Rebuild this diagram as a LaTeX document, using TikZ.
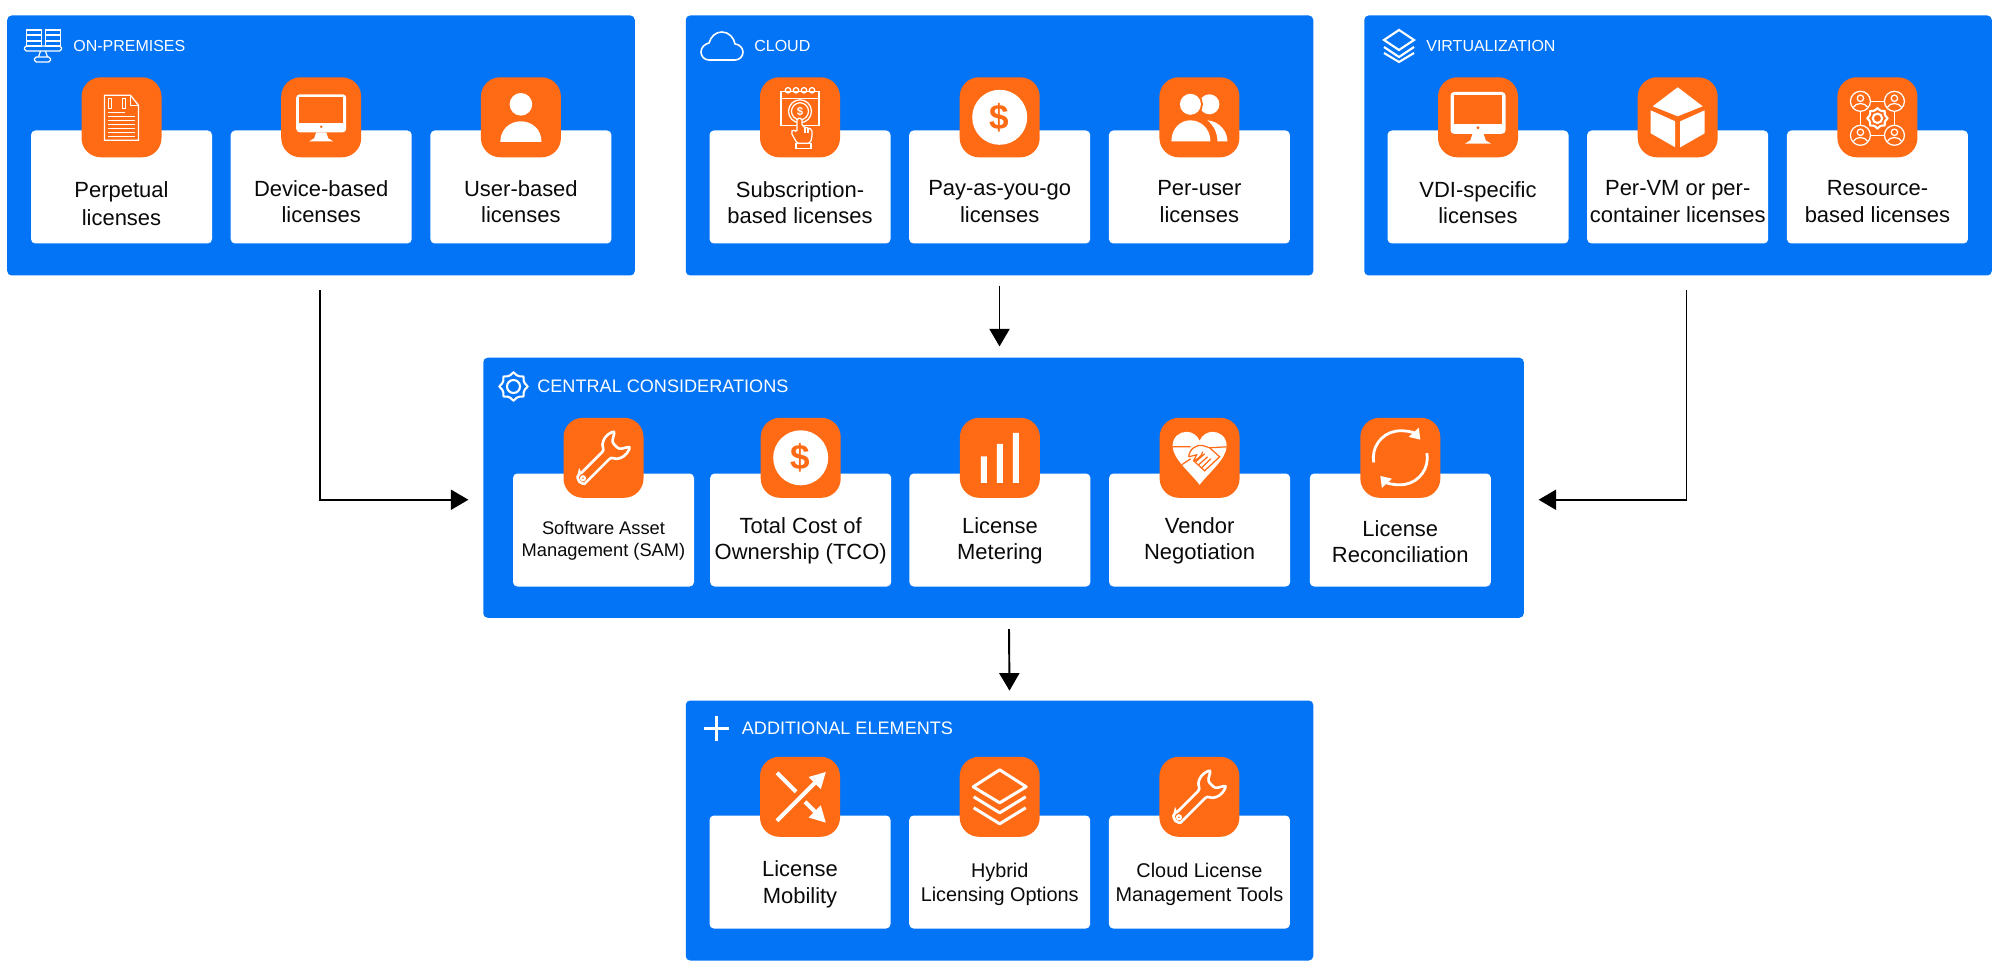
\documentclass[tikz,border=0pt]{standalone}
\usepackage{fontspec}
\setmainfont{Liberation Sans}
\usetikzlibrary{arrows.meta, positioning, calc}
\definecolor{cPanel}{RGB}{3, 116, 246}
\definecolor{cIcon}{RGB}{255, 106, 20}
\definecolor{tDark}{RGB}{10, 10, 10}

\tikzset{
    pics/hdGear/.style={code={
        \draw[icline, line width=1.2pt, smooth cycle] plot[domain=0:345, samples=24, variable=\t]
            ({(12.5+1.5*cos(8*\t))*cos(\t)}, {(12.5+1.5*cos(8*\t))*sin(\t)});
        \draw[icline, line width=1.2pt] (0,0) circle (6.5);
    }},
    pics/hdServers/.style={code={
        \draw[icline] (-16,-16) rectangle (-1,0) (3,-16) rectangle (18,0);
        \draw[icline] (-16,-11) -- (-1,-11) (-16,-5) -- (-1,-5) (3,-11) -- (18,-11) (3,-5) -- (18,-5);
        \draw[icline, rounded corners=1pt] (-18,0) rectangle (19,5);
        \draw[icline] (-2,5) -- (-4,11) (3,5) -- (5,11);
        \draw[icline, rounded corners=1pt] (-8,11) rectangle (8,16);
    }},
    pics/hdCloud/.style={code={
        \draw[icline, line width=0.9pt] (-13,14) .. controls (-18,14) and (-21,10) .. (-21,6)
            .. controls (-21,1) and (-17,-2) .. (-13,-3) .. controls (-11,-10) and (-6,-14) .. (0,-14)
            .. controls (7,-14) and (12,-8) .. (13,-2) .. controls (17,-2) and (21,2) .. (21,6)
            .. controls (21,11) and (17,14) .. (13,14) -- cycle;
    }},
    pics/hdLayers/.style={code={
        \draw[icline, line width=1.2pt] (0,-16) -- (15,-6) -- (0,4) -- (-15,-6) -- cycle;
        \draw[icline, line width=1.2pt] (-15,1) -- (0,11) -- (15,1) (-15,7) -- (0,16) -- (15,7);
    }},
    pics/hdPlus/.style={code={
        \draw[white, line width=1.9pt] (-12.5,0) -- (12.5,0) (0,-12.5) -- (0,12.5);
    }},
    pics/icDoc/.style={code={
        \draw[icline] (-17,-22) -- (9,-22) -- (17,-12) -- (17,23) -- (-17,23) -- cycle;
        \draw[icline] (9,-22) -- (9,-12) -- (17,-12);
        \draw[icline] (-13,-19) rectangle (-10,-9) (1,-19) rectangle (4,-9);
        \draw[icline] (-13,-5) -- (3,-5) (-13,-1) -- (13,-1) (-13,3) -- (13,3) (-13,7) -- (13,7)
            (-13,11) -- (13,11) (-13,15) -- (13,15) (-13,19) -- (13,19);
    }},
    pics/icMonitor/.style={code={
        \fill[white, rounded corners=2pt] (-25,-23) rectangle (25,15);
        \fill[cIcon] (-22,-20) rectangle (22,6);
        \fill[cIcon] (0,9.5) circle (1.4);
        \fill[white] (-5,15) -- (5,15) -- (7,21) -- (12,24) -- (-12,24) -- (-7,21) -- cycle;
    }},
    pics/icUser/.style={code={
        \fill[white] (0,-13) circle (11.3);
        \fill[white] (-20.6,24.7) .. controls (-20.6,11) and (-10,4) .. (0,4)
            .. controls (10,4) and (20.6,11) .. (20.6,24.7) -- cycle;
    }},
    pics/icCalendar/.style={code={
        \draw[icline] (-19,-26) rectangle (19,8) (-19,-19) -- (19,-19);
        \draw[icline] (-12,-27) circle (2.7) (-4,-27) circle (2.7) (4,-27) circle (2.7) (12,-27) circle (2.7);
        \draw[icline] (0,-6) circle (11.5) (0,-6) circle (8.5);
        \node[inner sep=0pt, text=white, font=\fontsize{6.5}{6.5}\selectfont\bfseries] (tapSign) at (0,-6) {\$};
        \draw[icline, fill=cIcon, rounded corners=1pt] (-3,26) -- (-9,15) -- (-7,12) -- (-3,15) -- (-3,1)
            -- (2,1) -- (2,9) -- (12,12) -- (12,20) -- (10,26) -- cycle;
        \draw[icline] (-4,26) rectangle (11,31) (5,10) -- (5,16) (8,11) -- (8,16);
    }},
    pics/icDollar/.style={code={
        \fill[white] (0,0) circle (27.5);
        \node[inner sep=0pt, text=cIcon, font=\fontsize{20}{20}\selectfont\bfseries] (coinSign) at (0,0) {\$};
    }},
    pics/icUsers/.style={code={
        \fill[white] (10,-13) circle (10);
        \fill[cIcon] (-9,-13) circle (12.5);
        \fill[white] (-9,-13) circle (10.5);
        \fill[white] (8,3) .. controls (20,4) and (28,14) .. (28,24) -- (18,24) .. controls (18,15) and (14,8) .. (8,3) -- cycle;
        \fill[white] (-28,24) .. controls (-28,11) and (-19,3) .. (-9,3)
            .. controls (1,3) and (11,11) .. (11,24) -- cycle;
    }},
    pics/icCube/.style={code={
        \fill[white] (0,-30) -- (25,-11) -- (0,-1) -- (-25,-11) -- cycle;
        \fill[white] (-27,-7) -- (-2.5,4) -- (-2.5,30) -- (-27,16) -- cycle;
        \fill[white] (27,-7) -- (2.5,4) -- (2.5,30) -- (27,16) -- cycle;
    }},
    pics/icPerson/.style={code={
        \draw[icline] (0,0) circle (10);
        \draw[icline] (0,-3) circle (3.2);
        \draw[icline] (-7,6) .. controls (-5,1) and (5,1) .. (7,6);
    }},
    pics/icNetwork/.style={code={
        \draw[icline] (-17,-6) -- (-17,8) (17,-6) -- (17,8) (-7,-16) -- (7,-16) (-7,18) -- (7,18);
        \pic at (-17,-16) {icPerson};
        \pic at (17,-16) {icPerson};
        \pic at (-17,18) {icPerson};
        \pic at (17,18) {icPerson};
        \pic[scale=0.72] at (0,1) {hdGear};
    }},
    pics/icWrench/.style={code={
        \draw[icline, line width=1.5pt, rotate=45, rounded corners=1.5pt] (-29,-5) -- (6,-5)
            .. controls (8,-11) and (14,-14) .. (22,-13) -- (27,-11) -- (17,-5) -- (17,5) -- (27,11) -- (22,13)
            .. controls (14,14) and (8,11) .. (6,5) -- (-29,5) arc (90:270:5) -- cycle;
        \draw[icline, line width=1.2pt, rotate=45] (-29,0) circle (2);
    }},
    pics/icBars/.style={code={
        \fill[white] (-19,25) rectangle (-13,-1.5) (-3,25) rectangle (3,-14) (13,25) rectangle (19,-25);
    }},
    pics/icHeart/.style={code={
        \fill[white] (0,27) .. controls (-10,14) and (-27,1) .. (-27,-12) .. controls (-27,-21) and (-20,-26) .. (-13,-26)
            .. controls (-7,-26) and (-2,-22) .. (0,-17) .. controls (2,-22) and (7,-26) .. (13,-26)
            .. controls (20,-26) and (27,-21) .. (27,-12) .. controls (27,1) and (10,14) .. (0,27) -- cycle;
        \draw[cIcon, line width=0.7pt] (-27,-11) -- (-9,-11) (10,-10) -- (27,-11);
        \draw[cIcon, line width=0.7pt, fill=white] (-11,-1) .. controls (-10,-9) and (-3,-14) .. (4,-12)
            -- (10,-10) -- (20,-1) -- (5,13) -- (-6,3) -- (-3,-3) -- (-11,-1);
        \draw[cIcon, line width=0.7pt] (-18,7) -- (-9,1) (2,10) -- (11,1) (-1,7) -- (8,-1) (-4,4) -- (5,-4)
            (-6,3) .. controls (-2,1) and (2,-1) .. (3,-6);
    }},
    pics/icCycle/.style={code={
        \draw[white, line width=1.6pt, -{Triangle[length=0.2cm, width=0.26cm]}] (0,0) ++(170:27) arc (170:318:27);
        \draw[white, line width=1.6pt, -{Triangle[length=0.2cm, width=0.26cm]}] (0,0) ++(-10:27) arc (-10:138:27);
    }},
    pics/icCross/.style={code={
        \draw[white, line width=2.3pt, -{Stealth[length=0.32cm, width=0.32cm, inset=0pt]}] (-23,24) -- (26,-25);
        \draw[white, line width=2.3pt] (-23,-24) -- (-4,-5);
        \draw[white, line width=2.3pt, -{Stealth[length=0.32cm, width=0.32cm, inset=0pt]}] (5,5) -- (26,26);
    }},
    pics/icStack/.style={code={
        \draw[white, line width=1.7pt, line join=round] (0,-27) -- (26.5,-10) -- (0,6) -- (-26.5,-10) -- cycle;
        \draw[white, line width=1.7pt, line join=round] (-26,0) -- (0,16) -- (26,0) (-26,11) -- (0,27) -- (26,11);
    }}
}

\begin{document}
\begin{tikzpicture}[
    font=\fontsize{12.5}{15}\selectfont,
    >=Stealth,
    node distance=0.36cm,
    every pic/.style={x=0.02cm, y=-0.02cm},
    icline/.style={white, line width=0.7pt},
    panel/.style={
        fill=cPanel,
        rounded corners=2.5pt,
        minimum width=12.55cm,
        minimum height=5.2cm
    },
    card/.style={
        fill=white,
        rounded corners=2.5pt,
        minimum width=3.62cm,
        minimum height=2.26cm,
        inner sep=0pt
    },
    cardtxt/.style={align=center, text=tDark, yshift=#1},
    cardtxt/.default=-0.29cm,
    icon/.style={
        fill=cIcon,
        rounded corners=11pt,
        minimum width=1.6cm,
        minimum height=1.6cm,
        inner sep=0pt
    },
    header/.style={text=white, inner sep=0pt, anchor=west, font=\fontsize{9.1}{11}\selectfont},
    bigheader/.style={header, font=\fontsize{10.3}{12}\selectfont},
    arrow/.style={-{Triangle[length=0.35cm, width=0.4cm]}, line width=1.1pt, color=black}
]
\useasboundingbox (0,0) rectangle (39.98,-19.52);

% On-premises
\node[panel] (onprem) at (6.42,-2.91) {};
\node[header] (hdOnprem) at (1.46,-0.92) {ON-PREMISES};
\pic at ([xshift=-0.61cm]hdOnprem.west) {hdServers};
\node[card, label={[cardtxt=-0.33cm, font=\fontsize{12.5}{15.6}\selectfont]center:{Perpetual\\licenses}}] (perp) at (2.43,-3.74) {};
\node[card, right=of perp, label={[cardtxt]center:{Device-based\\licenses}}] (device) {};
\node[card, right=of device, label={[cardtxt]center:{User-based\\licenses}}] (user) {};
\node[icon, above=-0.55cm of perp] (icPerp) {};
\node[icon, above=-0.55cm of device] (icDevice) {};
\node[icon, above=-0.55cm of user] (icUser) {};
\pic at (icPerp) {icDoc};
\pic at (icDevice) {icMonitor};
\pic at (icUser) {icUser};

% Cloud
\node[panel] (cloud) at (19.99,-2.91) {};
\node[header] (hdCloud) at (15.08,-0.92) {CLOUD};
\pic at ([xshift=-0.64cm]hdCloud.west) {hdCloud};
\node[card, label={[cardtxt=-0.31cm]center:{Subscription-\\based licenses}}] (subs) at (16,-3.74) {};
\node[card, right=of subs, label={[cardtxt]center:{Pay-as-you-go\\licenses}}] (payg) {};
\node[card, right=of payg, label={[cardtxt]center:{Per-user\\licenses}}] (peruser) {};
\node[icon, above=-0.55cm of subs] (icSubs) {};
\node[icon, above=-0.55cm of payg] (icPayg) {};
\node[icon, above=-0.55cm of peruser] (icPeruser) {};
\pic at (icSubs) {icCalendar};
\pic at (icPayg) {icDollar};
\pic at (icPeruser) {icUsers};

% Virtualization
\node[panel] (virt) at (33.56,-2.91) {};
\node[header] (hdVirt) at (28.52,-0.92) {VIRTUALIZATION};
\pic at ([xshift=-0.54cm]hdVirt.west) {hdLayers};
\node[card, label={[cardtxt=-0.31cm]center:{VDI-specific\\licenses}}] (vdi) at (29.56,-3.74) {};
\node[card, right=of vdi, label={[cardtxt]center:{Per-VM or per-\\container licenses}}] (pervm) {};
\node[card, right=of pervm, label={[cardtxt]center:{Resource-\\based licenses}}] (resource) {};
\node[icon, above=-0.55cm of vdi] (icVdi) {};
\node[icon, above=-0.55cm of pervm] (icPervm) {};
\node[icon, above=-0.55cm of resource] (icResource) {};
\pic[scale=1.1] at (icVdi) {icMonitor};
\pic at (icPervm) {icCube};
\pic at (icResource) {icNetwork};

% Central considerations
\node[panel, minimum width=20.81cm] (central) at (20.07,-9.755) {};
\node[bigheader] (hdCentral) at (10.74,-7.73) {CENTRAL CONSIDERATIONS};
\pic at ([xshift=-0.47cm]hdCentral.west) {hdGear};
\node[card, label={[cardtxt=-0.22cm, font=\fontsize{10.4}{12.4}\selectfont]center:{Software Asset\\Management (SAM)}}] (sam) at (12.07,-10.6) {};
\node[card, right=0.31cm of sam, label={[cardtxt=-0.22cm]center:{Total Cost of\\Ownership (TCO)}}] (tco) {};
\node[card, right=0.35cm of tco, label={[cardtxt=-0.22cm]center:{License\\Metering}}] (meter) {};
\node[card, right=0.36cm of meter, label={[cardtxt=-0.22cm]center:{Vendor\\Negotiation}}] (vendor) {};
\node[card, right=0.38cm of vendor, label={[cardtxt=-0.23cm]center:{License\\Reconciliation}}] (recon) {};
\node[icon, above=-0.5cm of sam] (icSam) {};
\node[icon, above=-0.5cm of tco] (icTco) {};
\node[icon, above=-0.5cm of meter] (icMeter) {};
\node[icon, above=-0.5cm of vendor] (icVendor) {};
\node[icon, above=-0.5cm of recon] (icRecon) {};
\pic at (icSam) {icWrench};
\pic at (icTco) {icDollar};
\pic at (icMeter) {icBars};
\pic at (icVendor) {icHeart};
\pic at (icRecon) {icCycle};

% Additional elements
\node[panel] (additional) at (19.99,-16.61) {};
\node[bigheader] (hdAdditional) at (14.83,-14.57) {ADDITIONAL ELEMENTS};
\pic at ([xshift=-0.5cm]hdAdditional.west) {hdPlus};
\node[card, label={[cardtxt=-0.24cm, font=\fontsize{12.5}{15.4}\selectfont]center:{License\\Mobility}}] (mobility) at (16,-17.44) {};
\node[card, right=of mobility, label={[cardtxt=-0.24cm, font=\fontsize{11.3}{13.8}\selectfont]center:{Hybrid\\Licensing Options}}] (hybrid) {};
\node[card, right=of hybrid, label={[cardtxt=-0.24cm, font=\fontsize{11.3}{13.8}\selectfont]center:{Cloud License\\Management Tools}}] (cloudtools) {};
\node[icon, above=-0.44cm of mobility] (icMobility) {};
\node[icon, above=-0.44cm of hybrid] (icHybrid) {};
\node[icon, above=-0.44cm of cloudtools] (icTools) {};
\pic at (icMobility) {icCross};
\pic at (icHybrid) {icStack};
\pic at (icTools) {icWrench};

\draw[arrow] ([xshift=-0.02cm, yshift=-0.29cm]onprem.south) |- ([xshift=-0.29cm, yshift=-0.24cm]central.west);
\draw[arrow] ([yshift=-0.2cm]cloud.south) -- ([yshift=0.22cm]central.north -| cloud.south);
\draw[arrow] ([xshift=0.17cm, yshift=-0.29cm]virt.south) |- ([xshift=0.29cm, yshift=-0.24cm]central.east);
\draw[arrow] ([xshift=0.11cm, yshift=-0.22cm]central.south) -- ([xshift=0.2cm, yshift=0.19cm]additional.north);

\end{tikzpicture}
\end{document}
